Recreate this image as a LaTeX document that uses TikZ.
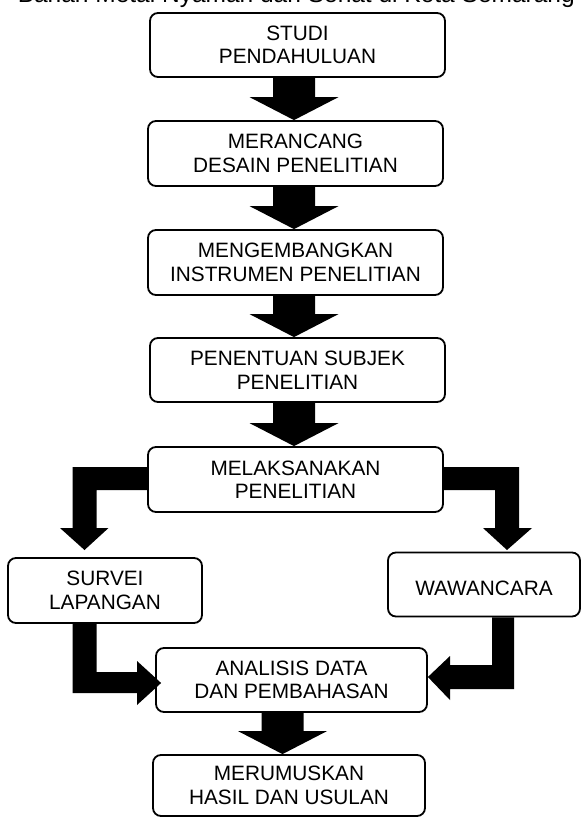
\documentclass[tikz,border=0pt]{standalone}
\usepackage{fontspec}
\setmainfont{Liberation Sans}
\usetikzlibrary{calc}
\tikzset{
  box/.style={draw, line width=1.8pt, rounded corners=8pt, align=center,
    inner sep=0pt, fill=white, font=\fontsize{20.8}{23.5}\selectfont},
  blk/.style={fill=black},
}
% straight block arrow from node #1 (south) to node #2 (north), centred at x=#3
\newcommand{\blkdown}[3]{%
  \fill[blk] let \p1=(#1.south), \p2=(#2.north) in
    (#3-21,\y1) -- (#3+21,\y1) -- (#3+21,\y2+23) -- (#3+44.5,\y2+23)
    -- (#3,\y2) -- (#3-44.5,\y2+23) -- (#3-21,\y2+23) -- cycle;}
\begin{document}
\begin{tikzpicture}[x=1pt,y=1pt]
\useasboundingbox (0,0) rectangle (581,-817);
\begin{scope}
  \clip (0,0) rectangle (581,-817);
  \node[anchor=base east, inner sep=0pt, font=\fontsize{24.5}{28}\selectfont] (title) at (575,-2.5)
    {Bahan Metal Nyaman dan Sehat di Kota Semarang};
\end{scope}

\node[box, minimum width=295pt, minimum height=64pt] (b1) at (297.5,-45) {STUDI\\PENDAHULUAN};
\node[box, minimum width=295pt, minimum height=65pt] (b2) at (295.5,-153.5) {MERANCANG\\DESAIN PENELITIAN};
\node[box, minimum width=295pt, minimum height=65pt] (b3) at (295.5,-262.5) {MENGEMBANGKAN\\INSTRUMEN PENELITIAN};
\node[box, minimum width=295pt, minimum height=64pt] (b4) at (297.5,-370) {PENENTUAN SUBJEK\\PENELITIAN};
\node[box, minimum width=295pt, minimum height=65pt] (b5) at (295.5,-479.5) {MELAKSANAKAN\\PENELITIAN};
\node[box, minimum width=194pt, minimum height=65pt] (survei) at (105,-590.5) {SURVEI\\LAPANGAN};
\node[box, minimum width=192pt, minimum height=64pt] (wawan) at (484,-584.5) {\rule{0pt}{22pt}WAWANCARA};
\node[box, minimum width=271pt, minimum height=64pt] (analisis) at (291.5,-680) {ANALISIS DATA\\DAN PEMBAHASAN};
\node[box, minimum width=272pt, minimum height=61pt] (merumus) at (289,-785.5) {MERUMUSKAN\\HASIL DAN USULAN};

\blkdown{b1}{b2}{294}
\blkdown{b2}{b3}{294}
\blkdown{b3}{b4}{294}
\blkdown{b4}{b5}{294}
\blkdown{analisis}{merumus}{282.5}

% split arrows from MELAKSANAKAN PENELITIAN
\fill[blk] let \p1=(b5.west) in
  (\x1,-467) -- (72.7,-467) -- (72.7,-528) -- (60,-528) -- (84.5,-550)
  -- (108.5,-528) -- (96.7,-528) -- (96.7,-490) -- (\x1,-490) -- cycle;
\fill[blk] let \p1=(b5.east) in
  (\x1,-467) -- (519,-467) -- (519,-528) -- (532,-528) -- (507,-550)
  -- (483,-528) -- (495,-528) -- (495,-490) -- (\x1,-490) -- cycle;

% elbow arrows into ANALISIS DATA
\fill[blk] let \p1=(survei.south), \p2=(analisis.west) in
  (72.7,\y1) -- (96.7,\y1) -- (96.7,-672) -- (137,-672) -- (137,-661)
  -- (\x2+6,-683) -- (137,-705) -- (137,-693) -- (72.7,-693) -- cycle;
\fill[blk] let \p1=(wawan.south), \p2=(analisis.east) in
  (492,\y1) -- (514,\y1) -- (514,-689) -- (450,-689) -- (450,-700)
  -- (\x2,-677) -- (450,-656) -- (450,-665) -- (492,-665) -- cycle;
\end{tikzpicture}
\end{document}
